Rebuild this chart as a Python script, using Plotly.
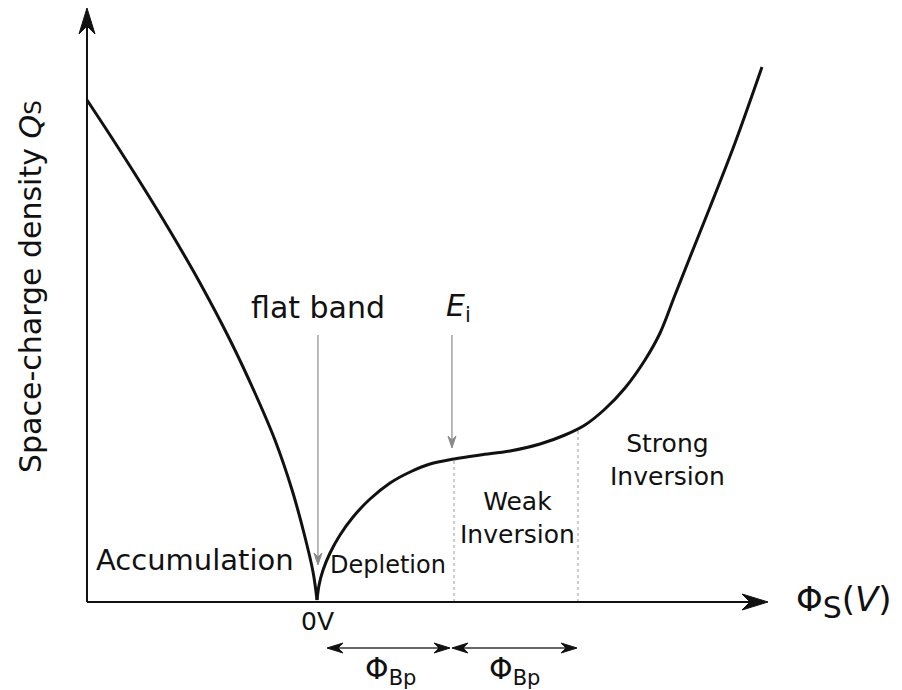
import plotly.graph_objects as go

# ---- data (x in units of Phi_Bp, y in arbitrary charge units) ----
acc_phi = [-1.679, -1.511, -1.292, -1.073, -0.854, -0.635, -0.453, -0.307,
           -0.182, -0.088, -0.029, 0.0]
acc_q = [5.02, 4.67, 4.20, 3.71, 3.19, 2.62, 2.09, 1.62, 1.12, 0.65, 0.30, 0.02]

inv_phi = [0.0, 0.015, 0.044, 0.095, 0.168, 0.263, 0.387, 0.533, 0.679, 0.825,
           1.0, 1.190, 1.409, 1.628, 1.810, 1.956, 2.102, 2.248, 2.394, 2.504,
           2.613, 2.723, 2.869, 3.051, 3.248]
inv_q = [0.02, 0.17, 0.32, 0.49, 0.67, 0.85, 1.03, 1.19, 1.30, 1.38,
         1.43, 1.47, 1.51, 1.58, 1.67, 1.77, 1.93, 2.14, 2.42, 2.69,
         3.07, 3.45, 3.95, 4.59, 5.35]

ei_phi = 1.0          # intrinsic level position
strong_phi = 1.905    # onset of strong inversion
ei_q = 1.43
strong_q = 1.735

x_axis_end = 3.292
y_axis_end = 5.94
y_axis_x = -1.679

FONT = "DejaVu Sans"
INK = "#111111"

fig = go.Figure()

# main curve
for xs, ys in [(acc_phi, acc_q), (inv_phi, inv_q)]:
    fig.add_trace(go.Scatter(x=xs, y=ys, mode="lines",
                             line=dict(color=INK, width=3, shape="spline", smoothing=1.0),
                             hoverinfo="skip"))

# dotted region dividers
for xv, yv in [(ei_phi, ei_q), (strong_phi, strong_q)]:
    fig.add_trace(go.Scatter(x=[xv, xv], y=[0, yv], mode="lines",
                             line=dict(color="#9a9a9a", width=1, dash="dot"),
                             hoverinfo="skip"))

shapes = []

def line(x0, y0, x1, y1, color, width):
    shapes.append(dict(type="line", xref="x", yref="y", x0=x0, y0=y0, x1=x1, y1=y1,
                       line=dict(color=color, width=width)))

def head(x, y, direction, length, half, notch, color):
    # stealth arrowhead, tip at (x, y); pixel path relative to anchor (y up)
    if direction == "right":
        pts = [(0, 0), (-length, half), (-notch, 0), (-length, -half)]
    elif direction == "left":
        pts = [(0, 0), (length, half), (notch, 0), (length, -half)]
    elif direction == "up":
        pts = [(0, 0), (half, -length), (0, -notch), (-half, -length)]
    else:  # down
        pts = [(0, 0), (half, length), (0, notch), (-half, length)]
    path = "M" + " L".join(f"{px},{py}" for px, py in pts) + " Z"
    shapes.append(dict(type="path", xref="x", yref="y", xsizemode="pixel", ysizemode="pixel",
                       xanchor=x, yanchor=y, path=path,
                       fillcolor=color, line=dict(color=color, width=1)))

# axes
line(y_axis_x, 0, x_axis_end - 0.05, 0, INK, 2)
head(x_axis_end, 0, "right", 26, 8, 18, INK)
line(y_axis_x, 0, y_axis_x, y_axis_end - 0.1, INK, 2)
head(y_axis_x, y_axis_end, "up", 26, 8, 18, INK)

# pointer arrows (flat band, Ei)
GRAY = "#8a8a8a"
line(0.007, 2.67, 0.007, 0.45, GRAY, 1.2)
head(0.007, 0.37, "down", 12, 4, 8, GRAY)
line(ei_phi - 0.015, 2.67, ei_phi - 0.015, 1.62, GRAY, 1.2)
head(ei_phi - 0.015, 1.54, "down", 12, 4, 8, GRAY)

# Phi_Bp double arrows
DARK = "#333333"
ya = -0.46
for xa, xb in [(0.073, 0.971), (0.985, 1.898)]:
    line(xa + 0.05, ya, xb - 0.05, ya, DARK, 1.5)
    head(xa, ya, "left", 16, 5, 11, INK)
    head(xb, ya, "right", 16, 5, 11, INK)

annotations = []

def text(x, y, s, size, **kw):
    annotations.append(dict(x=x, y=y, xref="x", yref="y", text=s, showarrow=False,
                            font=dict(family=FONT, size=size, color=INK), **kw))

text(0.007, 2.95, "flat band", 30)
text(1.03, 2.95, "<i>E</i><sub>i</sub>", 30)
text(-0.89, 0.42, "Accumulation", 29)
text(0.518, 0.37, "Depletion", 24)
text(1.46, 0.84, "Weak<br>Inversion", 25)
text(2.56, 1.42, "Strong<br>Inversion", 25)
text(0.0, -0.19, "0V", 25)
text(0.533, -0.68, "Φ<sub>Bp</sub>", 30)
text(1.445, -0.68, "Φ<sub>Bp</sub>", 30)
text(3.85, 0.0, "Φ<sub><span style='font-size:30px'>S</span></sub>(<i>V</i>)", 34)
text(-2.095, 3.15, "Space-charge density <i>Q</i><span style='font-size:23px'>S</span>", 30,
     textangle=-90)

fig.update_layout(
    width=902, height=690,
    margin=dict(l=0, r=0, t=0, b=0),
    paper_bgcolor="white", plot_bgcolor="white",
    showlegend=False,
    xaxis=dict(range=[-2.314, 4.27], visible=False, fixedrange=True),
    yaxis=dict(range=[-0.88, 6.02], visible=False, fixedrange=True),
    shapes=shapes,
    annotations=annotations,
)

fig.write_html("out.html", config={"displayModeBar": False})
